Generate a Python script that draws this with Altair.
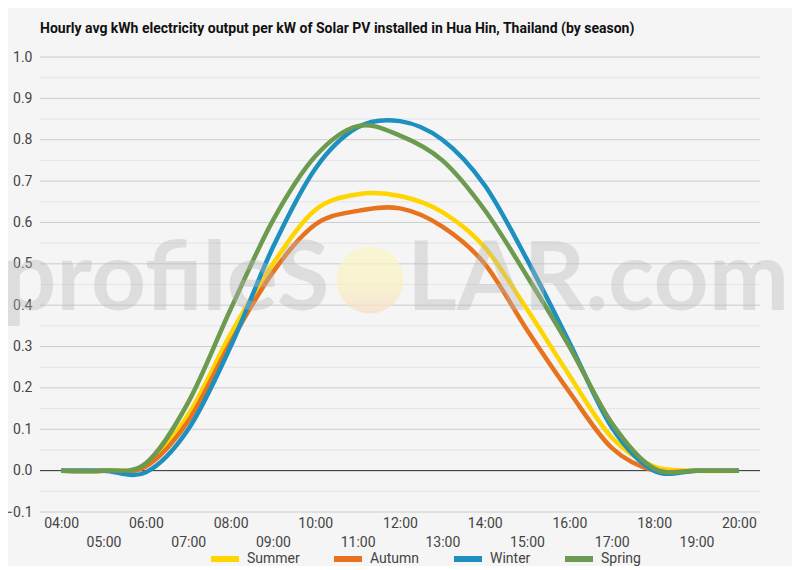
import altair as alt
import pandas as pd

hours = list(range(4, 21))
summer = [0, 0, 0.014, 0.135, 0.33, 0.50, 0.63, 0.668, 0.664, 0.625, 0.54, 0.39, 0.23, 0.08, 0.01, 0, 0]
autumn = [0, 0, 0.01, 0.12, 0.31, 0.48, 0.595, 0.628, 0.634, 0.59, 0.50, 0.34, 0.19, 0.055, 0.0, 0, 0]
winter = [0, 0, -0.004, 0.10, 0.30, 0.54, 0.73, 0.83, 0.845, 0.80, 0.69, 0.51, 0.31, 0.105, 0.0, 0, 0]
spring = [0, 0, 0.018, 0.165, 0.39, 0.605, 0.76, 0.833, 0.81, 0.75, 0.63, 0.47, 0.30, 0.115, 0.005, 0, 0]

seasons = ["Summer", "Autumn", "Winter", "Spring"]
colors = ["#FFD500", "#E8731F", "#1E90C0", "#6C9A4F"]

major_ticks = [round(-0.1 + 0.1 * i, 2) for i in range(12)]
minor_ticks = [round(-0.05 + 0.1 * i, 2) for i in range(11)]

rows = []
for name, vals in zip(seasons, [summer, autumn, winter, spring]):
    for h, v in zip(hours, vals):
        rows.append({"hour": h, "value": v, "season": name})
df = pd.DataFrame(rows)

FONT = "Roboto"
xscale = alt.Scale(domain=[3.5, 20.5], nice=False, zero=False)
yscale = alt.Scale(domain=[-0.1, 1.0], nice=False, zero=False)

label_expr = ("datum.value % 2 == 1 ? ['', (datum.value < 10 ? '0' : '') + datum.value + ':00'] "
              ": (datum.value < 10 ? '0' : '') + datum.value + ':00'")

yaxis = alt.Axis(values=major_ticks, format=".1f", title=None, grid=False,
                 domain=False, ticks=False, labelPadding=8,
                 labelFont=FONT, labelFontSize=14, labelColor="#444444")
xaxis = alt.Axis(values=hours, labelExpr=label_expr, title=None, grid=False,
                 domain=False, ticks=False, labelOverlap=False, labelBound=False,
                 labelFlush=False, labelPadding=4, labelLineHeight=19,
                 labelFont=FONT, labelFontSize=14, labelColor="#444444")

minor = alt.Chart(pd.DataFrame({"v": minor_ticks})).mark_rule(color="#e4e4e4", strokeWidth=1).encode(
    y=alt.Y("v:Q", scale=yscale, axis=yaxis)
)
major = alt.Chart(pd.DataFrame({"v": major_ticks})).mark_rule(color="#cccccc", strokeWidth=1).encode(
    y=alt.Y("v:Q", scale=yscale, axis=yaxis)
)
zero = alt.Chart(pd.DataFrame({"v": [0.0]})).mark_rule(color="#333333", strokeWidth=1).encode(
    y=alt.Y("v:Q", scale=yscale, axis=yaxis)
)

lines = alt.Chart(df).mark_line(strokeWidth=4.5, interpolate="cardinal").encode(
    x=alt.X("hour:Q", scale=xscale, axis=xaxis),
    y=alt.Y("value:Q", scale=yscale, axis=yaxis),
    color=alt.Color("season:N", scale=alt.Scale(domain=seasons, range=colors),
                    sort=seasons,
                    legend=alt.Legend(title=None, orient="none", direction="horizontal",
                                      legendX=168, legendY=485,
                                      symbolType="stroke", symbolStrokeWidth=6, symbolSize=784,
                                      labelFont=FONT, labelFontSize=14, labelColor="#444444",
                                      labelOffset=5, columnPadding=22)),
    detail="season:N",
)

sun = alt.Chart(pd.DataFrame({"k": [0]})).mark_point(
    filled=True, shape="circle", size=4500, opacity=0.7,
    color=alt.LinearGradient(gradient="linear", x1=0, x2=0, y1=0, y2=1,
                             stops=[alt.GradientStop(color="#fbf6c6", offset=0),
                                    alt.GradientStop(color="#f9f0c0", offset=0.6),
                                    alt.GradientStop(color="#f6dcc4", offset=1)])
).encode(x=alt.value(330), y=alt.value(223))

wm1 = alt.Chart(pd.DataFrame({"t": ["profileS"]})).mark_text(
    font="Lato", fontWeight="bold", fontSize=96, color="#b8b8b8", opacity=0.38,
    align="left", baseline="alphabetic"
).encode(text="t:N", x=alt.value(-38), y=alt.value(253))

wm2 = alt.Chart(pd.DataFrame({"t": ["LAR.com"]})).mark_text(
    font="Lato", fontWeight="bold", fontSize=96, color="#b8b8b8", opacity=0.38,
    align="left", baseline="alphabetic"
).encode(text="t:N", x=alt.value(367), y=alt.value(253))

chart = alt.layer(minor, major, zero, lines, sun, wm1, wm2).properties(
    width=720, height=455,
    autosize=alt.AutoSizeParams(type="none"),
    padding={"left": 32, "top": 49, "right": 32, "bottom": 54},
    background="#f5f5f5",
    title=alt.TitleParams(
        "Hourly avg kWh electricity output per kW of Solar PV installed in Hua Hin, Thailand (by season)",
        anchor="start", frame="group", font=FONT, fontSize=14, fontWeight="bold",
        color="#111111", offset=14),
).configure_view(stroke=None)

chart.save("out.html", embed_options={"renderer": "svg", "actions": False})
